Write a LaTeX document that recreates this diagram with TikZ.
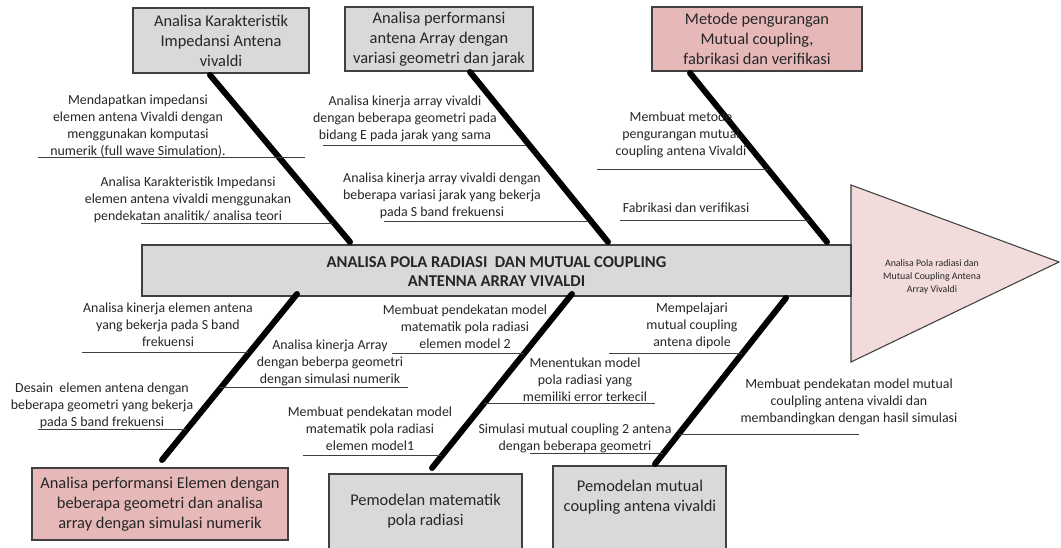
\documentclass[tikz,border=0pt]{standalone}
\usepackage{fontspec}
\setmainfont{Carlito}
\usetikzlibrary{positioning}
\definecolor{BoxGray}{HTML}{D9D9D9}
\definecolor{BoxPink}{HTML}{E6B9B8}
\definecolor{HeadPink}{HTML}{F2DCDB}
\definecolor{EdgeGray}{HTML}{404040}
\definecolor{TextGray}{HTML}{262626}

\tikzset{
	graybox/.style={draw=EdgeGray, fill=BoxGray, line width=0.8pt, align=center, text=TextGray,
		font=\fontsize{12.3}{15}\selectfont},
	pinkbox/.style={graybox, fill=BoxPink},
	cause/.style={align=center, inner sep=0pt, text=TextGray, font=\fontsize{10.4}{12.9}\selectfont},
	bone/.style={line width=4.5pt, line cap=round},
	twig/.style={draw=EdgeGray, line width=0.75pt},
}

\begin{document}
\begin{tikzpicture}[x=0.75pt,y=-0.75pt]
	\useasboundingbox (0,0) rectangle (1061,548);
	
	% head of the fish
	\draw[draw=EdgeGray, fill=HeadPink, line width=0.8pt] (851,185) -- (1059,262) -- (851,362) -- cycle;
	\node[align=center, text=TextGray, font=\fontsize{7.4}{10}\selectfont] (goal) at (932,277)
		{Analisa Pola radiasi dan\\Mutual Coupling Antena\\Array Vivaldi};
	
	% spine
	\draw[draw=EdgeGray, fill=BoxGray, line width=0.8pt] (142,245) rectangle (851,296);
	\node[align=center, text=TextGray, font=\fontsize{12.4}{14.6}\selectfont\bfseries] (spine) at (496.5,271.5)
		{ANALISA POLA RADIASI \ DAN MUTUAL COUPLING\\ANTENNA ARRAY VIVALDI};
	
	% top boxes
	\node[graybox, minimum width=132pt, minimum height=48.75pt] (kar) at (221,40.5)
		{Analisa Karakteristik\\Impedansi Antena\\vivaldi};
	\node[graybox, minimum width=141pt, minimum height=48pt] (perf) at (439,39)
		{Analisa performansi\\antena Array dengan\\variasi geometri dan jarak};
	\node[pinkbox, minimum width=157.5pt, minimum height=48pt] (metode) at (757,39)
		{Metode pengurangan\\Mutual coupling,\\fabrikasi dan verifikasi};
	
	% bottom boxes
	\node[pinkbox, minimum width=192pt, minimum height=54pt] (elemen) at (160,504)
		{Analisa performansi Elemen dengan\\beberapa geometri dan analisa\\array dengan simulasi numerik};
	\draw[draw=EdgeGray, fill=BoxGray, line width=0.8pt] (329,474) rectangle (522,570);
	\node[align=center, text=TextGray, font=\fontsize{12.3}{15}\selectfont] (pola) at (425.5,511)
		{Pemodelan matematik\\pola radiasi};
	\draw[draw=EdgeGray, fill=BoxGray, line width=0.8pt] (553,466) rectangle (726,570);
	\node[align=center, text=TextGray, font=\fontsize{12.3}{15}\selectfont] (mutual) at (640,497)
		{Pemodelan mutual\\coupling antena vivaldi};
	
	% bones
	\coordinate (t1) at (210,75);  \coordinate (s1) at (350,242);
	\coordinate (t2) at (470,72);  \coordinate (s2) at (608,242);
	\coordinate (t3) at (690,73);  \coordinate (s3) at (827,242);
	\coordinate (u1) at (297,294); \coordinate (e1) at (162,460);
	\coordinate (u2) at (572,294); \coordinate (e2) at (432,468);
	\coordinate (u3) at (786,298); \coordinate (e3) at (655,464);
	\draw[bone] (t1) -- (s1);
	\draw[bone] (t2) -- (s2);
	\draw[bone] (t3) -- (s3);
	\draw[bone] (u1) -- (e1);
	\draw[bone] (u2) -- (e2);
	\draw[bone] (u3) -- (e3);
	
	% causes, upper half
	\node[cause] (komp) at (138,126) {Mendapatkan impedansi\\elemen antena Vivaldi dengan\\menggunakan komputasi\\numerik (full wave Simulation).};
	\draw[twig] (38,158) -- (305,158);
	\node[cause] (teori) at (188,200) {Analisa Karakteristik Impedansi\\elemen antena vivaldi menggunakan\\pendekatan analitik/ analisa teori};
	\draw[twig] (141,224) -- (333,224);
	\node[cause] (bidang) at (405,119) {Analisa kinerja array vivaldi\\dengan beberapa geometri pada\\bidang E pada jarak yang sama};
	\draw[twig] (323,146) -- (526,146);
	\node[cause] (jarak) at (442,196) {Analisa kinerja array vivaldi dengan\\beberapa variasi jarak yang bekerja\\pada S band frekuensi};
	\draw[twig] (384,222) -- (588,222);
	\node[cause] (kurang) at (681,135) {Membuat metode\\pengurangan mutual\\coupling antena Vivaldi};
	\draw[twig] (597,170) -- (768,170);
	\node[cause] (fab) at (686,208) {Fabrikasi dan verifikasi};
	\draw[twig] (620,221) -- (809,221);
	
	% causes, lower half
	\node[cause] (sband) at (168,325) {Analisa kinerja elemen antena\\yang bekerja pada S band\\frekuensi};
	\draw[twig] (82,353) -- (248,353);
	\node[cause] (desain) at (102,406) {Desain \ elemen antena dengan\\beberapa geometri yang bekerja\\pada S band frekuensi};
	\draw[twig] (38,430) -- (186,430);
	\node[cause] (arr) at (330,363) {Analisa kinerja Array\\dengan beberpa geometri\\dengan simulasi numerik};
	\draw[twig] (220,388) -- (408,388);
	\node[cause] (model2) at (465,327) {Membuat pendekatan model\\matematik pola radiasi\\elemen model 2};
	\draw[twig] (392,354) -- (524,354);
	\node[cause] (model1) at (370,429) {Membuat pendekatan model\\matematik pola radiasi\\elemen model1};
	\draw[twig] (303,456) -- (441,456);
	\node[cause] (error) at (585,380) {Menentukan model\\pola radiasi yang\\memiliki error terkecil};
	\draw[twig] (484,404) -- (655,404);
	\node[cause] (simul) at (575,438) {Simulasi mutual coupling 2 antena\\dengan beberapa geometri};
	\draw[twig] (530,454) -- (663,454);
	\node[cause] (dipole) at (692,326) {Mempelajari\\mutual coupling\\antena dipole};
	\draw[twig] (609,354) -- (742,354);
	\node[cause] (banding) at (849,402) {Membuat pendekatan model mutual\\coulpling antena vivaldi dan\\membandingkan dengan hasil simulasi};
	\draw[twig] (679,435) -- (859,435);
\end{tikzpicture}
\end{document}
